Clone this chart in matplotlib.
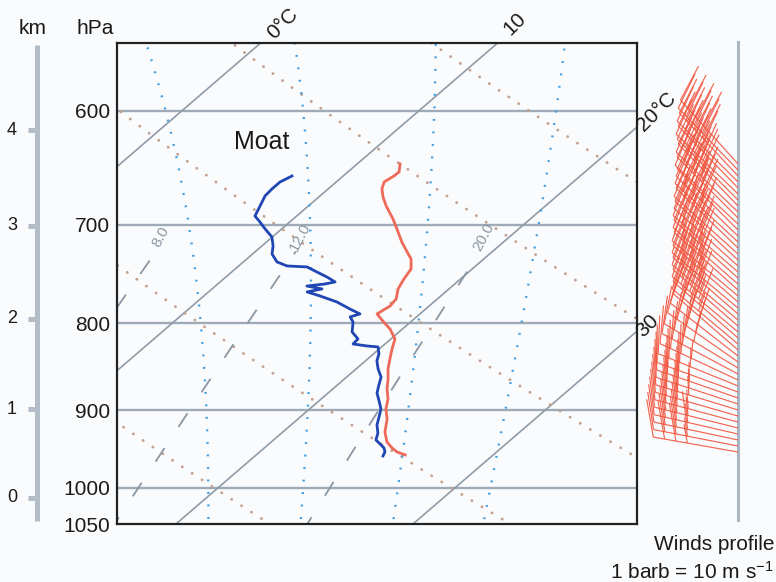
import numpy as np
import matplotlib
matplotlib.use("Agg")
import matplotlib.pyplot as plt
from matplotlib.ticker import NullLocator
from matplotlib.collections import LineCollection
from matplotlib.transforms import IdentityTransform

plt.rcParams['font.family'] = ['Liberation Sans', 'DejaVu Sans']
plt.rcParams['mathtext.fontset'] = 'custom'
plt.rcParams['mathtext.rm'] = 'Liberation Sans'
plt.rcParams['mathtext.it'] = 'Liberation Sans:italic'

# ---------------- data ----------------
# dew point profile (hPa, degC)
td_p = [655.5, 660.8, 667.1, 673.4, 682.6, 692.0, 697.6, 704.2, 711.9, 720.6,
        728.5, 736.4, 740.4, 741.4, 746.5, 751.6, 756.6, 758.7, 760.8, 763.8,
        766.9, 771.1, 777.4, 784.8, 790.1, 793.3, 798.7, 809.6, 817.3, 822.9,
        825.1, 826.2, 834.1, 842.1, 851.2, 860.5, 869.9, 879.3, 888.9, 898.6,
        908.3, 918.3, 928.3, 937.1, 942.2, 947.3, 952.5, 957.6]
td_t = [7.84, 7.63, 7.63, 7.68, 7.96, 8.24, 8.74, 9.30, 9.98, 10.47,
        10.82, 11.42, 12.04, 12.93, 13.60, 14.27, 14.85, 14.52, 13.86, 14.64,
        14.16, 14.90, 15.91, 16.80, 17.47, 17.20, 17.57, 18.02, 18.61, 18.65,
        19.33, 19.85, 20.23, 20.49, 20.93, 21.45, 21.75, 22.06, 22.54, 23.01,
        23.32, 23.63, 24.06, 24.32, 24.69, 25.05, 25.29, 25.40]
# temperature profile (hPa, degC)
t_p = [644.9, 651.9, 655.5, 660.8, 667.1, 674.4, 682.6, 694.8, 707.1, 716.8,
       726.5, 733.4, 743.4, 753.6, 763.8, 774.2, 781.6, 790.1, 797.7, 806.3,
       817.3, 828.5, 839.8, 851.2, 862.8, 874.6, 886.5, 898.6, 910.8, 927.1,
       939.6, 947.3, 952.5, 956.3]
t_t = [11.81, 12.16, 12.14, 12.02, 12.27, 12.71, 13.28, 14.21, 15.06, 15.71,
       16.42, 16.93, 17.42, 17.61, 17.85, 18.26, 18.35, 18.19, 18.78, 19.47,
       20.17, 20.54, 20.94, 21.35, 21.84, 22.29, 22.82, 23.22, 23.76, 24.31,
       24.88, 25.39, 25.80, 26.29]
# wind profile: pressure (hPa), direction the wind comes from (deg), speed (m/s)
wind_p = [644.9, 650.2, 655.5, 660.8, 666.2, 671.6, 677.1, 682.6, 688.2, 693.8,
          699.5, 705.2, 711.0, 716.8, 722.6, 728.5, 734.5, 740.4, 746.5, 752.6,
          758.7, 764.9, 771.1, 777.4, 783.8, 790.1, 796.6, 803.1, 809.6, 816.2,
          822.9, 829.6, 836.4, 843.2, 850.1, 857.0, 864.0, 871.0, 878.2, 885.3,
          892.5, 899.8, 907.2, 914.6, 922.0, 929.6, 937.1, 944.8, 952.5]
wind_dir = [318, 316, 317, 315, 316, 314, 315, 316, 314, 315,
            313, 315, 314, 313, 314, 312, 313, 312, 311, 312,
            311, 312, 310, 311, 310, 311, 310, 311, 310, 311,
            310, 311, 308, 305, 301, 298, 295, 292, 290, 289,
            288, 287, 286, 285, 284, 283, 282, 281, 280]
wind_spd = [40, 40, 40, 40, 35, 40, 40, 40, 35, 40,
            40, 40, 40, 35, 40, 40, 35, 40, 40, 40,
            35, 40, 40, 35, 40, 35, 40, 35, 35, 40,
            35, 35, 40, 35, 35, 30, 35, 35, 30, 35,
            35, 35, 30, 35, 35, 35, 40, 35, 35]

isobars = [600, 700, 800, 900, 1000]
p_ticks = [600, 700, 800, 900, 1000, 1050]
p_tick_labels = ['600', '700', '800', '900', '1000', '1050']
isotherms = [0, 10, 20, 30]
dry_theta = [293, 303, 313, 323, 333, 343]          # K
moist_thetaw = [19.6, 23.6, 27.6, 31.5]              # degC
mixing_ratios = [8.0, 12.0, 20.0]                    # g/kg
mixing_labels = ['8.0', '12.0', '20.0']
km_levels = [0, 1, 2, 3, 4]
km_pressure = [1013, 899, 795, 701, 616]

# ---------------- chart geometry ----------------
SKEW = 36.2
P_REF = 546.0
P_TOP = 547.5
P_BOT = 1050.0
XMIN, XMAX = -6.16, 15.78

BG = '#fafbfd'
GRID = '#9eaab6'
W_PX, H_PX = 776, 582


def skew_x(t, p):
    return np.asarray(t, float) - SKEW * np.log(np.asarray(p, float) / P_REF)


def moist_adiabat(thetaw_c, p_out):
    Rd, cp, Lv, eps = 287.04, 1005.7, 2.501e6, 0.622

    def dTdp(T, p):
        e = 6.112 * np.exp(17.67 * (T - 273.15) / (T - 29.65))
        rs = eps * e / (p - e)
        return (Rd * T + Lv * rs) / (p * (cp + Lv * Lv * rs * eps / (Rd * T * T)))

    def integrate(p_end):
        ps = np.linspace(1000.0, p_end, 400)
        Ts = [thetaw_c + 273.15]
        for i in range(len(ps) - 1):
            p0, h = ps[i], ps[i + 1] - ps[i]
            T0 = Ts[-1]
            k1 = dTdp(T0, p0)
            k2 = dTdp(T0 + 0.5 * h * k1, p0 + 0.5 * h)
            k3 = dTdp(T0 + 0.5 * h * k2, p0 + 0.5 * h)
            k4 = dTdp(T0 + h * k3, p0 + h)
            Ts.append(T0 + h / 6 * (k1 + 2 * k2 + 2 * k3 + k4))
        return ps, np.array(Ts)

    pu, tu = integrate(530.0)
    pd, td = integrate(1060.0)
    ps = np.concatenate([pu[::-1], pd[1:]])
    ts = np.concatenate([tu[::-1], td[1:]])
    return np.interp(p_out, ps, ts) - 273.15


def mixing_td(w, p):
    e = w * p / (622.0 + w)
    a = np.log(e / 6.112)
    return 243.5 * a / (17.67 - a)


fig = plt.figure(figsize=(W_PX / 100, H_PX / 100), dpi=100, facecolor=BG)

L = 117 / W_PX
B = 1 - 524 / H_PX
W = 520 / W_PX
H = 481 / H_PX
ax = fig.add_axes([L, B, W, H])
ax.set_facecolor(BG)
ax.set_yscale('log')
ax.set_ylim(P_BOT, P_TOP)
ax.set_xlim(XMIN, XMAX)
ax.yaxis.set_minor_locator(NullLocator())
ax.set_yticks(p_ticks)
ax.set_yticklabels(p_tick_labels)
ax.tick_params(axis='y', length=0, pad=5, labelsize=15, colors='#1a1a1a')
ax.set_xticks([])
for s in ax.spines.values():
    s.set_linewidth(1.6)
    s.set_color('#222222')

pp = np.geomspace(P_BOT * 1.01, P_TOP * 0.98, 400)

# isobars
for p in isobars:
    ax.axhline(p, color=GRID, lw=1.7, zorder=1)

# isotherms
for t in isotherms:
    ax.plot(skew_x(np.full_like(pp, t), pp), pp, color='#8f9ca8', lw=1.2, zorder=1)

# dry adiabats
for th in dry_theta:
    tt = th * (pp / 1000.0) ** 0.2857 - 273.15
    ax.plot(skew_x(tt, pp), pp, color='#c4a290', lw=2.1,
            linestyle=(0, (0.05, 4.0)), dash_capstyle='round', zorder=1)

# moist adiabats
for tw in moist_thetaw:
    tt = moist_adiabat(tw, pp)
    ax.plot(skew_x(tt, pp), pp, color='#3f9de2', lw=1.7,
            linestyle=(0, (0.8, 4.5)), zorder=1)

# mixing ratio lines
pm = np.geomspace(1060, 726, 200)
for w, lab in zip(mixing_ratios, mixing_labels):
    ax.plot(skew_x(mixing_td(w, pm), pm), pm, color='#8a97a3', lw=1.3,
            linestyle=(0, (9, 14)), zorder=1)
    pl = 712.0
    ax.annotate(lab, xy=(float(skew_x(mixing_td(w, pl), pl)), pl), xytext=(-4, 0),
                textcoords='offset points', rotation=62, ha='center', va='center',
                fontsize=11, color='#8a97a3', zorder=2)

# sounding
ax.plot(skew_x(td_t, td_p), td_p, color='#2046b4', lw=2.0, zorder=4)
ax.plot(skew_x(t_t, t_p), t_p, color='#ee6a58', lw=2.0, zorder=4)

ax.text(0.279, 0.794, 'Moat', transform=ax.transAxes, fontsize=18,
        ha='center', va='center', color='#1a1a1a')

# isotherm labels
lab_kw = dict(textcoords='offset points', ha='center', va='center', rotation=45,
              fontsize=15, annotation_clip=False, color='#1a1a1a')
ax.annotate('0°C', xy=(float(skew_x(0, P_TOP)), P_TOP), xytext=(16, 14), **lab_kw)
ax.annotate('10', xy=(float(skew_x(10, P_TOP)), P_TOP), xytext=(12, 14), **lab_kw)
ax.annotate('20°C', xy=(XMAX, P_REF * np.exp((20 - XMAX) / SKEW)), xytext=(14, 11), **lab_kw)
ax.annotate('30', xy=(XMAX, P_REF * np.exp((30 - XMAX) / SKEW)), xytext=(8, 4), **lab_kw)

# ---------------- km axis ----------------
axk = fig.add_axes([0, B, L, H])
axk.set_yscale('log')
axk.set_ylim(P_BOT, P_TOP)
axk.set_xlim(0, 117)
axk.axis('off')
axk.plot([37, 37], [549, 1046], color='#b3bdc7', lw=3.6, solid_capstyle='butt', clip_on=False)
for k, p in zip(km_levels, km_pressure):
    axk.plot([28, 37], [p, p], color='#b3bdc7', lw=3.6, solid_capstyle='butt', clip_on=False)
    axk.text(12, p, str(k), ha='center', va='center', fontsize=13, color='#1a1a1a')

fig.text(33 / W_PX, 1 - 28 / H_PX, 'km', ha='center', va='center', fontsize=15, color='#1a1a1a')
fig.text(95 / W_PX, 1 - 28 / H_PX, 'hPa', ha='center', va='center', fontsize=15, color='#1a1a1a')

# ---------------- wind profile ----------------
axw = fig.add_axes([640 / W_PX, B, 136 / W_PX, H])
axw.set_yscale('log')
axw.set_ylim(P_BOT, P_TOP)
axw.set_xlim(640, 776)
axw.axis('off')
axw.plot([738, 738], [P_TOP * 0.998, 1044], color='#aab7c4', lw=2.2, clip_on=False)

SHAFT, BARB_H, BARB_A, BARB_SP = 86.0, 36.0, 13.0, 11.5   # pixels
base = axw.transData.transform(np.column_stack([np.full(len(wind_p), 738.0), wind_p]))
segs = []
for (bx, by), d_deg, s in zip(base, wind_dir, wind_spd):
    a = np.radians(d_deg)
    d = np.array([np.sin(a), np.cos(a)])          # toward where the wind comes from
    n = np.array([d[1], -d[0]])                    # clockwise side
    b0 = np.array([bx, by])
    tip = b0 + SHAFT * d
    segs.append([b0, tip])
    nfull = int(s // 10)
    half = (s % 10) >= 5
    for i in range(nfull):
        st = tip - i * BARB_SP * d
        segs.append([st, st + BARB_H * n + BARB_A * d])
    if half:
        st = tip - nfull * BARB_SP * d
        segs.append([st, st + 0.5 * (BARB_H * n + BARB_A * d)])
lc = LineCollection(segs, colors='#f2553f', linewidths=0.85, alpha=0.9,
                    transform=IdentityTransform(), zorder=3)
fig.add_artist(lc)

fig.text(774 / W_PX, 1 - 545 / H_PX, 'Winds profile', ha='right', va='center',
         fontsize=15, color='#1a1a1a')
fig.text(774 / W_PX, 1 - 572 / H_PX, '1 barb = 10 m s$^{-1}$', ha='right', va='center',
         fontsize=15, color='#1a1a1a')

fig.savefig('out.png', dpi=100, facecolor=BG)
